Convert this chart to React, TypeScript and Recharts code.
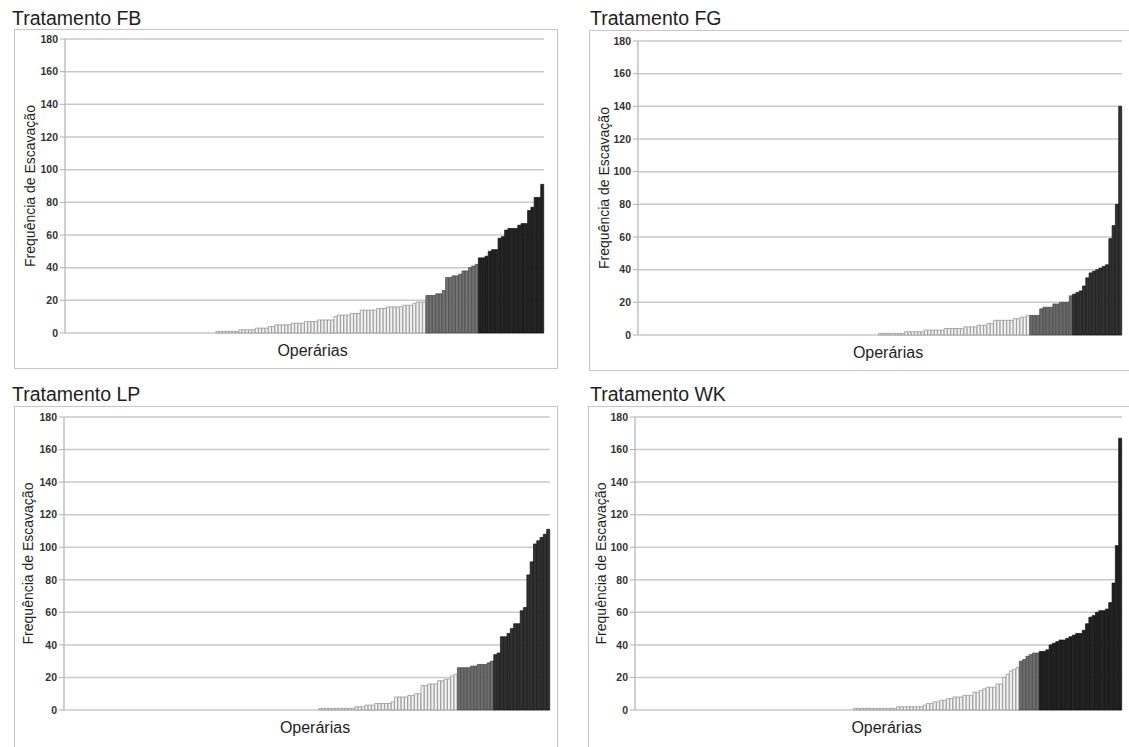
import { BarChart, Bar, XAxis, YAxis, CartesianGrid, Cell } from 'recharts'

const yTicks = [0, 20, 40, 60, 80, 100, 120, 140, 160, 180]

// Tratamento FB
const fbZeros = 46
const fbLight = [
    1, 1, 1, 1, 1, 1, 1, 2, 2, 2, 2, 2, 3, 3, 3, 3, 4, 4, 5, 5, 5, 5, 5, 6, 6, 6, 6, 7, 7, 7, 7, 8, 8, 8, 8, 8,
    10, 11, 11, 11, 11, 12, 12, 12, 14, 14, 14, 14, 14, 15, 15, 15, 16, 16, 16, 16, 16, 17, 17, 17, 18, 19, 19, 19,
]
const fbMedium = [23, 23, 23, 24, 24, 26, 34, 34, 35, 35, 36, 38, 38, 40, 41, 42]
const fbDark = [46, 46, 47, 50, 51, 51, 58, 59, 63, 64, 64, 64, 66, 67, 67, 75, 77, 83, 83, 91]

// Tratamento FG
const fgZeros = 73
const fgLight = [
    1, 1, 1, 1, 1, 1, 1, 1, 2, 2, 2, 2, 2, 2, 3, 3, 3, 3, 3, 3, 4, 4, 4, 4, 4, 4, 5, 5, 5, 5, 6, 6, 6, 7, 7,
    9, 9, 9, 9, 9, 9, 10, 10, 11, 11, 12,
]
const fgMedium = [12, 12, 12, 16, 17, 17, 17, 19, 19, 20, 20, 20, 24]
const fgDark = [25, 26, 27, 30, 35, 38, 39, 40, 41, 42, 43, 59, 67, 80, 140]

// Tratamento LP
const lpZeros = 77
const lpLight = [
    1, 1, 1, 1, 1, 1, 1, 1, 1, 1, 1, 2, 2, 2, 3, 3, 3, 4, 4, 4, 4, 4, 5, 8, 8, 8, 8, 9, 9, 10, 10, 15, 15,
    16, 16, 16, 18, 18, 19, 19, 21, 22,
]
const lpMedium = [26, 26, 26, 26, 27, 27, 28, 28, 28, 29, 30]
const lpDark = [34, 35, 45, 45, 47, 50, 53, 53, 61, 63, 83, 91, 102, 104, 106, 108, 111]

// Tratamento WK
const wkZeros = 66
const wkLight = [
    1, 1, 1, 1, 1, 1, 1, 1, 1, 1, 1, 1, 1, 2, 2, 2, 2, 2, 2, 2, 2, 3, 4, 4, 5, 5, 6, 6, 7, 7, 8, 8, 8,
    9, 9, 9, 11, 11, 12, 13, 14, 14, 14, 16, 16, 20, 22, 24, 25, 26,
]
const wkMedium = [30, 31, 33, 34, 35, 35]
const wkDark = [
    36, 36, 37, 40, 41, 42, 43, 43, 44, 45, 46, 47, 47, 49, 53, 57, 58, 60, 61, 61, 62, 66, 78, 101, 167,
]

type Row = { id: number; value: number; group: string }

function buildRows(zeros: number, light: number[], medium: number[], dark: number[]): Row[] {
    const rows: { value: number; group: string }[] = []
    for (let i = 0; i < zeros; i++) rows.push({ value: 0, group: 'light' })
    light.forEach((v) => rows.push({ value: v, group: 'light' }))
    medium.forEach((v) => rows.push({ value: v, group: 'medium' }))
    dark.forEach((v) => rows.push({ value: v, group: 'dark' }))
    return rows.map((r, i) => ({ ...r, id: i + 1 }))
}

const panels = [
    {
        title: 'Tratamento FB',
        rows: buildRows(fbZeros, fbLight, fbMedium, fbDark),
        colors: { light: '#f2f2f2', medium: '#747474', dark: '#232323' },
        titlePos: { left: 12, top: 8 },
        box: { left: 14, top: 29, width: 544, height: 340 },
        chart: { left: 14, top: 29, width: 543, height: 339, axisW: 51, mTop: 10, mRight: 13, yLabelOffset: 16 },
    },
    {
        title: 'Tratamento FG',
        rows: buildRows(fgZeros, fgLight, fgMedium, fgDark),
        colors: { light: '#f2f2f2', medium: '#6a6a6a', dark: '#333333' },
        titlePos: { left: 590, top: 8 },
        box: { left: 589, top: 30, width: 560, height: 341 },
        chart: { left: 589, top: 30, width: 540, height: 340, axisW: 49, mTop: 11, mRight: 7, yLabelOffset: 15 },
    },
    {
        title: 'Tratamento LP',
        rows: buildRows(lpZeros, lpLight, lpMedium, lpDark),
        colors: { light: '#f2f2f2', medium: '#6e6e6e', dark: '#323232' },
        titlePos: { left: 12, top: 384 },
        box: { left: 14, top: 406, width: 544, height: 380 },
        chart: { left: 14, top: 406, width: 544, height: 339, axisW: 50, mTop: 11, mRight: 8, yLabelOffset: 14 },
    },
    {
        title: 'Tratamento WK',
        rows: buildRows(wkZeros, wkLight, wkMedium, wkDark),
        colors: { light: '#f2f2f2', medium: '#6e6e6e', dark: '#202020' },
        titlePos: { left: 590, top: 384 },
        box: { left: 588, top: 406, width: 560, height: 380 },
        chart: { left: 588, top: 406, width: 541, height: 339, axisW: 47, mTop: 11, mRight: 7, yLabelOffset: 13 },
    },
]

const strokes: Record<string, string> = { light: '#8a8a8a', medium: '#444444', dark: '#0e0e0e' }

function Panel({ p }: { p: (typeof panels)[number] }) {
    const c = p.chart
    const fills: Record<string, string> = p.colors
    return (
        <>
            <div
                style={{
                    position: 'absolute',
                    left: p.titlePos.left,
                    top: p.titlePos.top,
                    fontSize: 19.5,
                    lineHeight: '20px',
                    color: '#1e1e1e',
                    whiteSpace: 'nowrap',
                }}
            >
                {p.title}
            </div>
            <div
                style={{
                    position: 'absolute',
                    left: p.box.left,
                    top: p.box.top,
                    width: p.box.width,
                    height: p.box.height,
                    boxSizing: 'border-box',
                    border: '1.5px solid #c6c6c6',
                }}
            />
            <div style={{ position: 'absolute', left: c.left, top: c.top }}>
                <BarChart
                    width={c.width}
                    height={c.height}
                    data={p.rows}
                    margin={{ top: c.mTop, right: c.mRight, left: 0, bottom: 0 }}
                    barCategoryGap={0}
                    barGap={0}
                >
                    <CartesianGrid vertical={false} stroke="#c9c9c9" strokeWidth={1.5} />
                    <XAxis
                        dataKey="id"
                        height={35}
                        tick={false}
                        tickLine={false}
                        axisLine={false}
                        label={{
                            value: 'Operárias',
                            position: 'inside',
                            dx: 8,
                            style: { fontSize: 16, fill: '#1e1e1e' },
                        }}
                    />
                    <YAxis
                        width={c.axisW}
                        domain={[0, 180]}
                        ticks={yTicks}
                        interval={0}
                        tickSize={5}
                        tickMargin={2}
                        tickLine={{ stroke: '#b0b0b0' }}
                        axisLine={{ stroke: '#c0c0c0', strokeWidth: 1.5 }}
                        tick={{ fontSize: 10.5, fontWeight: 700, fill: '#333333' }}
                        label={{
                            value: 'Frequência de Escavação',
                            angle: -90,
                            position: 'insideLeft',
                            offset: c.yLabelOffset,
                            style: { textAnchor: 'middle', fontSize: 14, fill: '#1e1e1e' },
                        }}
                    />
                    <Bar dataKey="value" isAnimationActive={false} strokeWidth={0.7}>
                        {p.rows.map((r) => (
                            <Cell key={r.id} fill={fills[r.group]} stroke={strokes[r.group]} />
                        ))}
                    </Bar>
                </BarChart>
            </div>
        </>
    )
}

export default function App() {
    return (
        <div
            style={{
                position: 'absolute',
                left: 0,
                top: 0,
                width: 1129,
                height: 747,
                overflow: 'hidden',
                background: '#ffffff',
                fontFamily: '"Liberation Sans", Arial, sans-serif',
            }}
        >
            {panels.map((p) => (
                <Panel key={p.title} p={p} />
            ))}
        </div>
    )
}
